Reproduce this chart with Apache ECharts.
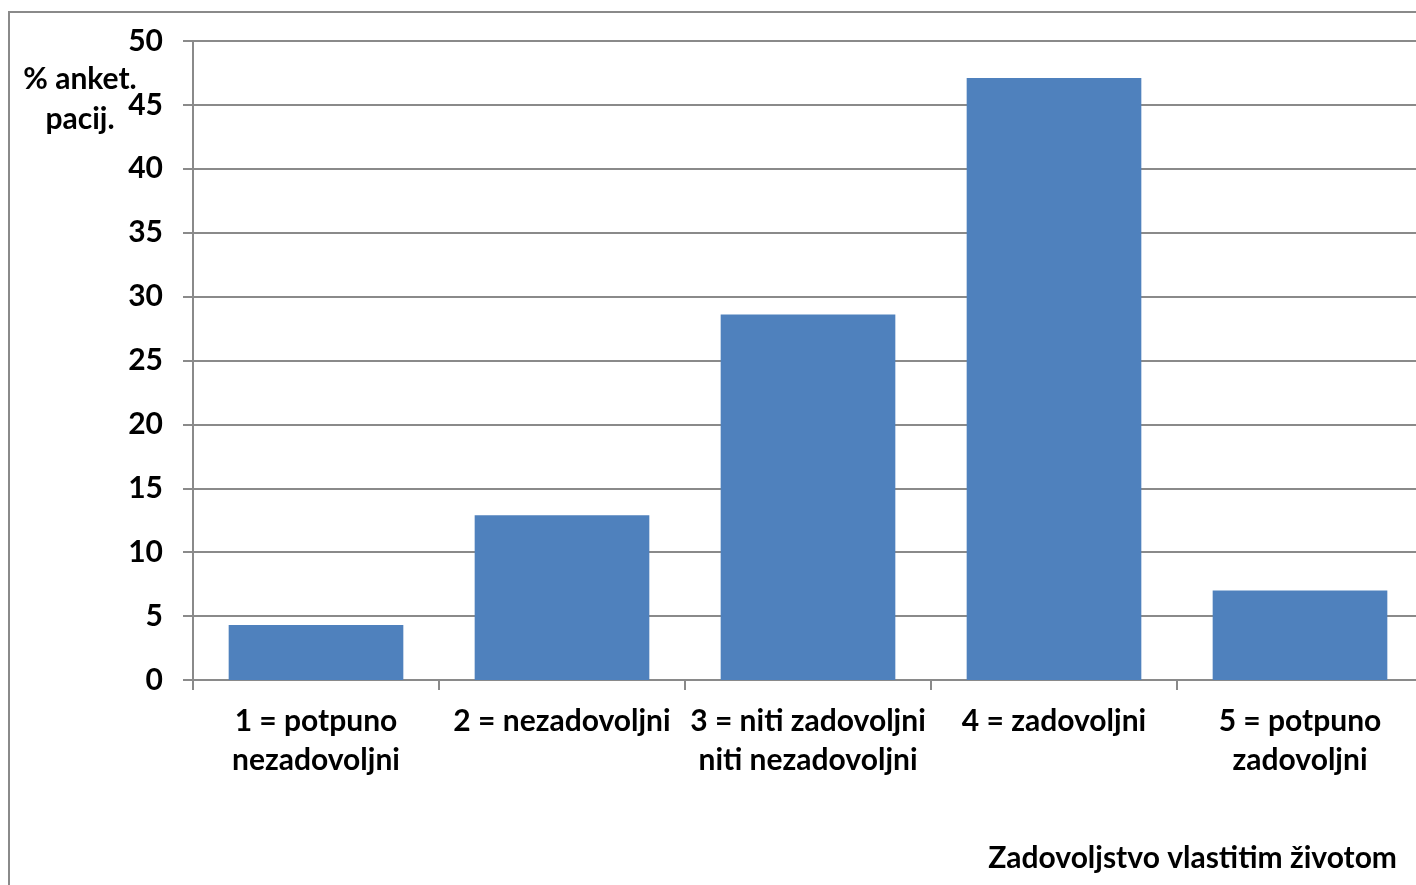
<!DOCTYPE html>
<html>
<head>
<meta charset="utf-8">
<script src="https://cdn.jsdelivr.net/npm/echarts@6/dist/echarts.min.js"></script>
<style>
  html, body { margin: 0; padding: 0; background: #fff; overflow: hidden; }
  #chart { width: 1430px; height: 885px; }
</style>
</head>
<body>
<div id="chart"></div>
<script>
// data
const categories = [
  '1 = potpuno\nnezadovoljni',
  '2 = nezadovoljni',
  '3 = niti zadovoljni\nniti nezadovoljni',
  '4 = zadovoljni',
  '5 = potpuno\nzadovoljni'
]
const percentValues = [4.3, 12.9, 28.6, 47.1, 7.0]
const yAxisTitle = '% anket.\npacij.'
const xAxisTitle = 'Zadovoljstvo vlastitim životom'

const fontFamily = 'Lato, "Open Sans", sans-serif'
const gridColor = '#8a8a8a'

// chart is a bit wider than the window: plot runs past the right edge like the original
const chart = echarts.init(document.getElementById('chart'))

chart.setOption({
  animation: false,
  grid: {
    left: 193,
    top: 41,
    width: 1230,
    height: 639
  },
  graphic: [
    {
      type: 'rect',
      shape: { x: 9, y: 12, width: 1450, height: 900 },
      style: { fill: 'none', stroke: gridColor, lineWidth: 2 },
      z: -1
    },
    {
      type: 'text',
      x: 80,
      y: 59,
      style: {
        text: yAxisTitle,
        font: 'bold 30px ' + fontFamily,
        fill: '#000',
        align: 'center',
        verticalAlign: 'top',
        lineHeight: 40
      }
    },
    {
      type: 'text',
      x: 1397,
      y: 858,
      style: {
        text: xAxisTitle,
        font: 'bold 30px ' + fontFamily,
        fill: '#000',
        align: 'right',
        verticalAlign: 'middle'
      }
    }
  ],
  xAxis: {
    type: 'category',
    data: categories,
    axisLine: { lineStyle: { color: gridColor, width: 2 } },
    axisTick: { show: true, length: 10, lineStyle: { color: gridColor, width: 2 } },
    axisLabel: {
      interval: 0,
      margin: 22,
      color: '#000',
      fontWeight: 'bold',
      fontSize: 30,
      fontFamily: fontFamily,
      lineHeight: 39
    }
  },
  yAxis: {
    type: 'value',
    min: 0,
    max: 50,
    interval: 5,
    axisLine: { show: true, lineStyle: { color: gridColor, width: 2 } },
    axisTick: { show: true, length: 10, lineStyle: { color: gridColor, width: 2 } },
    splitLine: { lineStyle: { color: gridColor, width: 2 } },
    axisLabel: {
      margin: 30,
      color: '#000',
      fontWeight: 'bold',
      fontSize: 30,
      fontFamily: fontFamily
    }
  },
  series: [
    {
      type: 'bar',
      data: percentValues,
      barCategoryGap: '29%',
      itemStyle: { color: '#4f81bd' }
    }
  ]
})
</script>
</body>
</html>
